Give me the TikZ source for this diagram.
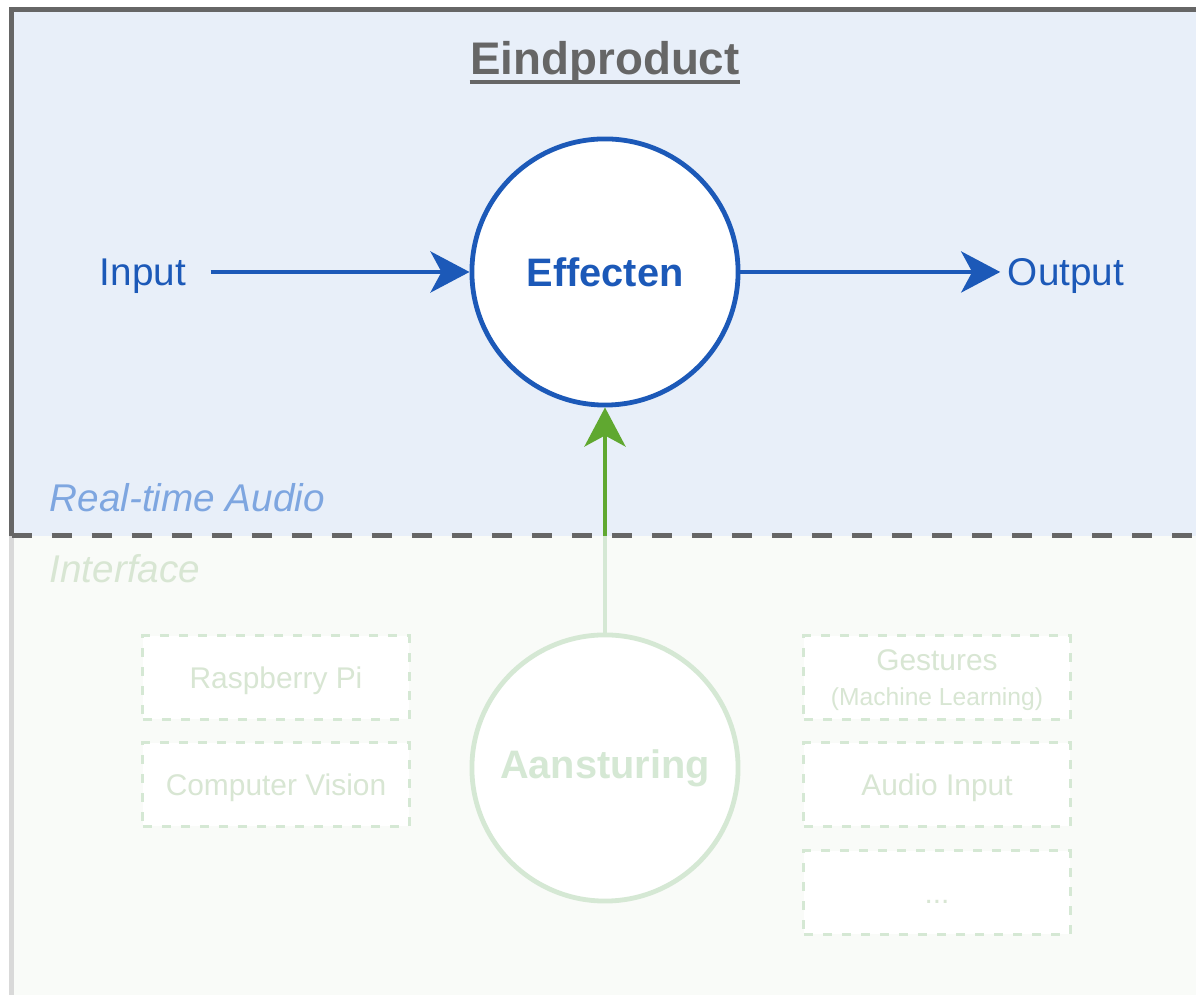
\documentclass[tikz,border=0pt]{standalone}
\usepackage{fontspec}
\setmainfont{Liberation Sans}
\usepackage{xcolor}
\usepackage{tikz}
\usetikzlibrary{calc}
\usetikzlibrary{arrows.meta}

\definecolor{kaderGrijs}{HTML}{666666}
\definecolor{randGrijs}{HTML}{D9D9D9}
\definecolor{vlakBlauw}{HTML}{E8EFF9}
\definecolor{vlakGroen}{HTML}{F9FBF8}
\definecolor{lijnBlauw}{HTML}{1C59B8}
\definecolor{tekstBlauw}{HTML}{7EA6E0}
\definecolor{pijlGroen}{HTML}{60A830}
\definecolor{lichtGroen}{HTML}{D5E8D4}
\definecolor{tekstGroen}{HTML}{D8E6D3}

\tikzset{
  bol/.style={circle, draw, fill=white, line width=0.048cm, minimum size=2.66cm, inner sep=0pt,
    font=\fontsize{11.3}{13}\selectfont\bfseries},
  label/.style={text=lijnBlauw, font=\fontsize{11}{13}\selectfont, text height=0.27cm, text depth=0pt},
  vak/.style={draw=lichtGroen, fill=white, line width=0.03cm, dash pattern=on 0.09cm off 0.1cm,
    minimum width=2.66cm, minimum height=0.83cm, inner sep=0pt, text=tekstGroen,
    font=\fontsize{8.5}{10}\selectfont},
  eenregel/.style={text height=0.22cm, text depth=0pt},
  pijl/.style={line width=0.045cm, -{Stealth[length=0.39cm, width=0.41cm, inset=0.11cm]}},
}

\begin{document}
\begin{tikzpicture}[x=0.01cm, y=-0.01cm]
        \useasboundingbox (0,0) rectangle (1196,995);
        %KOORDINAT
        \coordinate (LB) at (11.5,9.5);
        \coordinate (RB) at (1196,9.5);
        \coordinate (LM) at (11.5,536);
        \coordinate (RM) at (1196,536);
        \coordinate (LO) at (11.5,995);
        \coordinate (RO) at (1196,995);
        %VLAKKEN
        \fill[vlakBlauw] (LB) rectangle (RM);
        \fill[vlakGroen] (LM) rectangle (RO);
        \draw[randGrijs, line width=0.05cm] (LM) -- (LO);
        \draw[kaderGrijs, line width=0.05cm] (LM) -- (LB) -- (RB);
        \draw[kaderGrijs, line width=0.05cm, dash pattern=on 0.2cm off 0.2cm] (LM) -- (RM);
        %TITEL
        \node[anchor=base, inner sep=0pt, text=kaderGrijs, font=\fontsize{13}{15}\selectfont\bfseries] (titel) at (605,75) {Eindproduct};
        \draw[kaderGrijs, line width=0.035cm] ([yshift=-0.07cm]titel.base west) -- ([yshift=-0.07cm]titel.base east);
        %EFFECTEN
        \node[bol, draw=lijnBlauw, text=lijnBlauw] (effect) at (605,272) {Effecten};
        \node[label, inner xsep=0.24cm] (input) at (143,272) {Input};
        \node[label, inner xsep=0.07cm] (output) at (1066,272) {Output};
        \draw[pijl, lijnBlauw] (input) -- (effect);
        \draw[pijl, lijnBlauw] (effect) -- (output);
        %LAGEN
        \node[anchor=base west, inner sep=0pt, text=tekstBlauw, font=\fontsize{11}{13}\selectfont\itshape] (realtime) at (49,512) {Real-time Audio};
        \node[anchor=base west, inner sep=0pt, text=tekstGroen, font=\fontsize{11}{13}\selectfont\itshape] (interface) at (49,583) {Interface};
        %AANSTURING
        \node[bol, draw=lichtGroen, text=lichtGroen] (aanst) at (605,768) {Aansturing};
        \coordinate (grens) at (effect |- LM);
        \draw[lichtGroen, line width=0.045cm] (aanst) -- (grens);
        \draw[pijl, pijlGroen] (grens) -- (effect);
        %VAKKEN
        \node[vak, eenregel] (rpi) at (276,677.5) {Raspberry Pi};
        \node[vak, eenregel] (vision) at (276,784.5) {Computer Vision};
        \node[vak, align=center, text depth=-0.05cm] (gestures) at (937,677.5) {Gestures\\{\fontsize{7}{8}\selectfont (Machine Learning)}};
        \node[vak, eenregel] (audio) at (937,784.5) {Audio Input};
        \node[vak, eenregel] (overig) at (937,892.5) {...};
\end{tikzpicture}
\end{document}
